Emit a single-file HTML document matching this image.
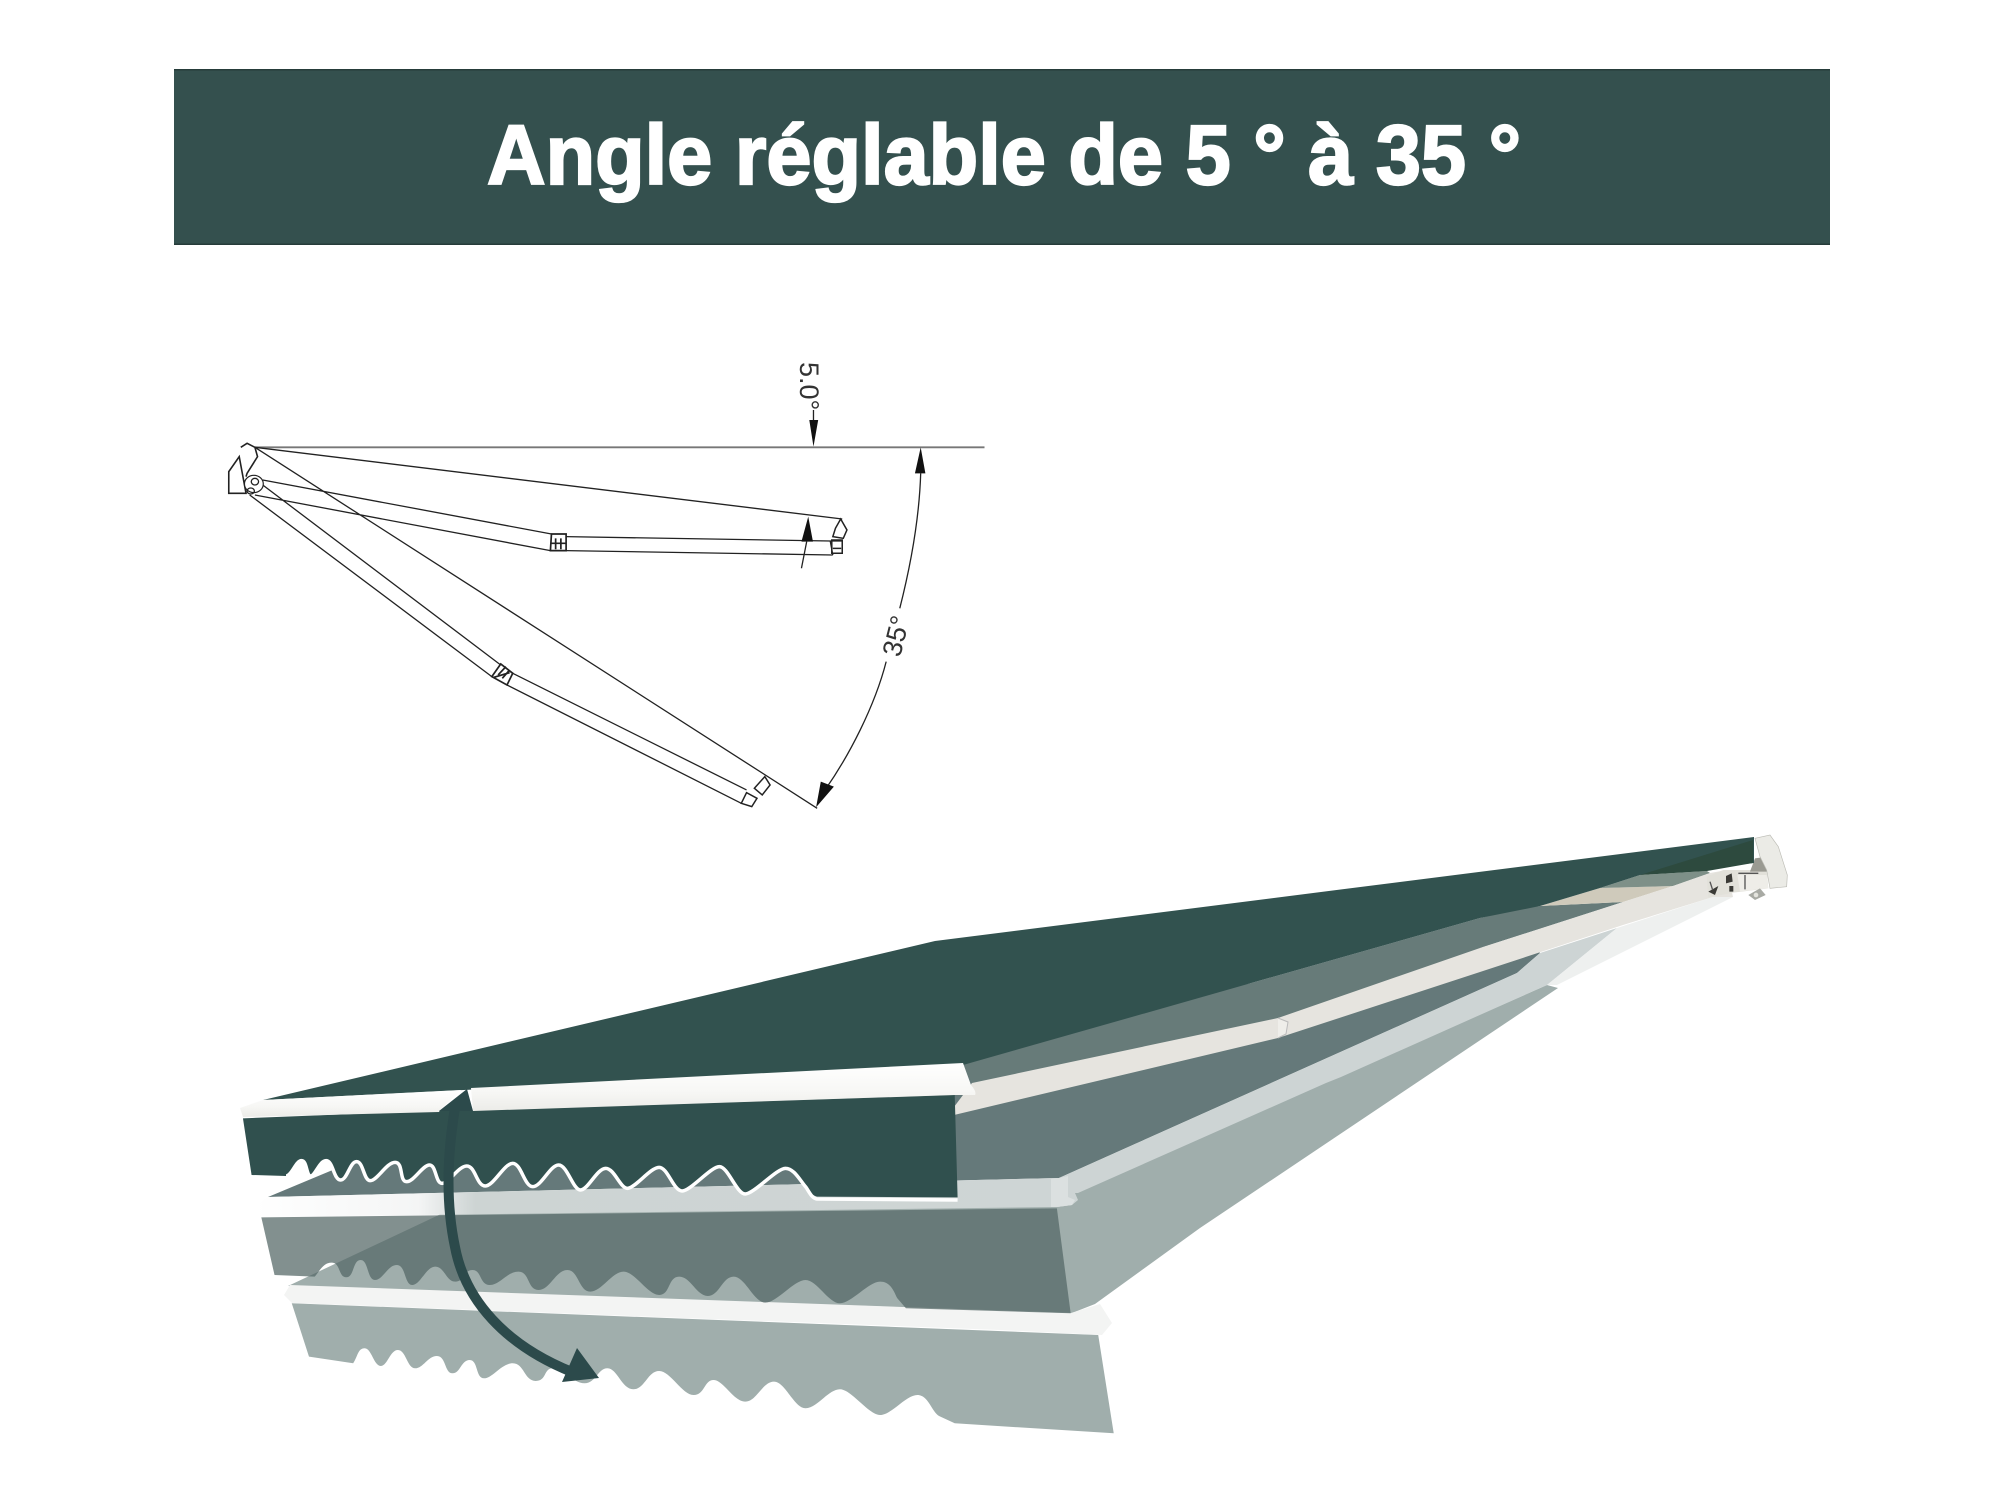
<!DOCTYPE html>
<html><head><meta charset="utf-8"><style>
html,body{margin:0;padding:0;background:#fff;width:2004px;height:1503px;overflow:hidden}
svg{display:block}
.l{fill:none;stroke:#222;stroke-width:1.3;vector-effect:non-scaling-stroke}
.t{font-family:"Liberation Sans",sans-serif;fill:#333}
</style></head><body>
<svg width="2004" height="1503" viewBox="0 0 2004 1503" xmlns="http://www.w3.org/2000/svg">
<defs>
<linearGradient id="bar1" x1="0" y1="0" x2="0" y2="1"><stop offset="0" stop-color="#fff"/><stop offset=".6" stop-color="#f7f7f5"/><stop offset="1" stop-color="#ecece8"/></linearGradient>
<linearGradient id="mid" x1="0" y1="0" x2="1" y2="0"><stop offset="0" stop-color="#ffffff"/><stop offset=".2" stop-color="#f4f5f5"/><stop offset=".27" stop-color="#cdd4d3"/><stop offset="1" stop-color="#ced5d5"/></linearGradient>
</defs>
<rect x="174" y="69" width="1656" height="176" fill="#34504e"/>
<rect x="174" y="69" width="1656" height="1.5" fill="#263c3a"/>
<rect x="174" y="243.5" width="1656" height="1.5" fill="#263c3a"/>
<text x="487" y="184" font-family="Liberation Sans, sans-serif" font-weight="700" font-size="84" fill="#fff" stroke="#fff" stroke-width="2.2" textLength="1034" lengthAdjust="spacingAndGlyphs">Angle réglable de 5 ° à 35 °</text>

<!-- technical drawing -->
<g transform="matrix(.523 0 0 .3333 200 340)">
<path d="M105,322H1500" class="l" style="stroke:#777;stroke-width:1.8"/>
<path class="l" d="M105,322L1228,537M105,322L1180,1405M120,420L672,582M105,465L670,632M700,590L1205,603H1228M700,632L1210,645M1205,603L1210,645M120,435L575,975M95,465L558,1010M598,1000L1045,1350M587,1035L1035,1390"/>
<path class="l" style="stroke-width:1.6" d="M78,322L90,310L105,322L110,350L90,400L88,410M88,460H55V395L75,350Z"/>
<ellipse cx="103" cy="432" rx="18" ry="26" fill="#fff" stroke="#222" stroke-width="1.2" vector-effect="non-scaling-stroke"/>
<ellipse cx="105" cy="425" rx="7" ry="10" class="l"/><ellipse cx="97" cy="453" rx="7" ry="9" class="l"/>
<path class="l" style="stroke-width:1.7" d="M672,582H700V632H670ZM680,595V628M690,595V628M672,610H700"/>
<path class="l" style="stroke-width:1.7" d="M575,972L598,1000L587,1035L558,1010ZM570,1005L585,980M578,1015L592,990M562,1012L592,998"/>
<path class="l" style="stroke-width:1.5" d="M1225,537L1237,570L1230,595L1210,590L1215,565ZM1208,600L1228,600V640H1208ZM1210,625H1226"/>
<path class="l" style="stroke-width:1.5" d="M1060,1345L1080,1310L1090,1335L1075,1365ZM1045,1358L1065,1375L1055,1400L1035,1390Z"/>
<path class="l" d="M1173,210V240M1150,685L1160,605M1378,400C1375,550 1355,700 1338,805M1312,965C1290,1100 1240,1250 1195,1350"/>
<path fill="#111" d="M1165,240H1182L1173,320ZM1163,530L1150,605H1172ZM1378,322L1367,400H1387ZM1178,1402L1187,1325L1212,1340Z"/>
</g>
<text class="t" font-size="27" transform="translate(800 362) rotate(90)">5.0°</text>
<text class="t" font-size="27" transform="translate(900 658) rotate(-76)">35°</text>

<!-- lower surface -->
<polygon fill="#a0aeac" points="288,1286 460,1205 1057,1190 1075,1193 1547,985 1558,988 1200,1228 1095,1304 1072,1313"/>
<g transform="matrix(.574 0 0 .3333 220 1040)">
<path fill="#a0aeac" d="M125,790L155,950L232,970C240,950 240,925 252,925S268,978 280,978S296,930 310,930S326,985 340,985S362,948 378,948S391,1000 405,1000S420,960 435,960S445,1015 460,1015S490,970 510,970S530,1023 550,1023S563,985 580,985S615,1030 635,1030S658,985 675,985S700,1048 720,1048S745,993 765,993S805,1065 825,1065S843,1020 860,1020S895,1085 915,1085S945,1025 965,1025S1000,1105 1020,1105S1060,1048 1080,1048S1130,1125 1150,1125S1195,1065 1215,1065S1240,1120 1255,1130L1280,1150L1557,1180L1530,885Z"/>
</g>
<polygon fill="#f3f4f3" points="290,1285 1071,1313 1100,1304 1112,1323 1102,1335 1000,1330 292,1303 284,1295"/>

<!-- middle valance -->
<g transform="matrix(.574 0 0 .3333 220 1040)">
<path fill="#536765" fill-opacity=".73" d="M72,532L95,705L165,710C175,690 180,668 195,668S206,712 220,712S231,660 245,660S256,720 270,720S292,675 308,675S321,735 335,735S359,680 375,680S394,725 410,725S424,690 440,690S452,735 470,735S500,695 520,695S535,750 555,750S585,690 605,690S625,755 645,755S683,695 703,695S745,765 765,765S780,710 800,710S830,768 850,768S875,710 895,710S930,788 950,788S1000,720 1020,720S1060,790 1080,790S1130,725 1150,725S1175,760 1180,775L1195,805L1482,820L1458,505Z"/>
</g>

<!-- middle surface, bar and arm -->
<polygon fill="#65797a" points="268,1197 500,1100 1530,940 1540,953 1517,973 1059,1178"/>
<polygon fill="#cdd4d4" points="1059,1178 1517,973 1540,953 1617,928 1547,985 1341,1077 1326,1083 1078,1193 1075,1193 1078,1200 1072,1205 1057,1207"/>
<polygon fill="#eef0ef" points="1617,928 1713,897 1733,897 1557,985 1547,985"/>
<polygon fill="url(#mid)" points="268,1197 1059,1178 1072,1205 1057,1207 262,1217 255,1212 255,1205"/>
<polygon fill="#dbe0e0" points="1051,1179 1059,1178 1068,1176 1068,1197 1075,1200 1072,1205 1057,1207 1051,1207"/>

<!-- top arm and underside -->
<polygon fill="#677b79" points="963,1065 1480,918 1523,908 1540,906 1623,902 1480,948 1278,1018 972,1083"/>
<polygon fill="#cfcabb" points="1540,906 1600,888 1673,886 1623,902"/>
<polygon fill="#7e9088" points="1600,888 1640,875 1707,871 1710,873 1673,886"/>
<polygon fill="#e6e4df" points="972,1083 1278,1018 1480,948 1623,902 1673,886 1710,873 1727,870 1733,897 1713,897 1623,925 1480,972 1278,1038 954,1115 954,1107"/>
<path d="M1278,1018L1288,1022L1286,1034L1278,1038" fill="#efeeea" stroke="#bbb" stroke-width="1"/>

<!-- hardware -->
<g transform="translate(1650 820) scale(.3333)">
<path fill="#e2e1da" d="M170,170L220,150H350L355,205L300,212L250,218L175,232Z"/>
<path fill="#eeede8" d="M262,165H350L355,205L270,214Z"/>
<path fill="#9a9a92" d="M315,115L350,110L358,155H300Z"/>
<path fill="#ebebe6" stroke="#bdbdb6" stroke-width="2" d="M315,55L360,45L385,80L412,165L410,200L360,205L350,150L330,110Z"/>
<path fill="#a8aaa4" d="M295,225L330,205L347,225L315,240Z"/>
<circle cx="318" cy="225" r="7" fill="#e4e4de"/>
<path fill="#3a3a36" d="M228,168L245,160L248,185L228,190ZM238,198H250V215H238ZM175,215L205,198L195,225Z"/>
<path fill="none" stroke="#555" stroke-width="4" d="M285,165V208M265,160H325M180,185L188,210"/>
</g>

<!-- top canvas -->
<path fill="#32524f" d="M263,1100L935,941L1754,837V863L1640,875L1600,888L1540,906L1480,918L963,1065Z"/>
<polygon fill="#2d4a3e" points="1640,875 1753,840 1753,863 1707,871"/>

<!-- front valance -->
<g transform="matrix(.574 0 0 .3333 220 1040)">
<path fill="#30504e" d="M40,235L380,212H440L1280,165L1285,472L1040,470C1030,465 1025,450 1020,440S1000,385 985,385S930,462 915,462S885,380 870,380S820,453 805,453S780,382 765,382S725,445 710,445S687,385 672,385S643,450 628,450S605,375 590,375S560,440 545,440S525,370 510,370S477,438 462,438S445,378 430,378S400,430 387,430S378,375 365,375S338,425 325,425S320,367 305,367S275,422 262,422S250,365 238,365S222,420 210,420S198,362 185,362S170,408 158,408S152,362 142,362S125,408 115,408L55,405Z"/>
<path fill="none" stroke="#fff" stroke-width="3.5" vector-effect="non-scaling-stroke" d="M115,408C125,408 132,362 142,362S150,408 158,408S173,362 185,362S198,420 210,420S226,365 238,365S250,422 262,422S290,367 305,367S312,425 325,425S353,375 365,375S375,430 387,430S415,378 430,378S447,438 462,438S495,370 510,370S530,440 545,440S575,375 590,375S615,450 628,450S657,385 672,385S697,445 710,445S750,382 765,382S790,453 805,453S855,380 870,380S900,462 915,462S970,385 985,385S1010,420 1020,440C1025,450 1030,475 1040,477L1285,480"/>
</g>

<!-- front bar -->
<path fill="url(#bar1)" d="M240,1108L263,1100L461,1090L440,1110L439,1112L243,1117Z"/>
<path fill="url(#bar1)" d="M471,1088L963,1063L971,1085Q977,1092 975,1095L955,1095L473,1111Z"/>

<!-- arrow -->
<path fill="none" stroke="#2c4a4b" stroke-width="10" d="M455,1108C448,1150 445,1200 455,1247C465,1300 505,1345 572,1372"/>
<path fill="#2c4a4b" d="M467,1089L439,1111H473ZM577,1348L599,1378L562,1382Z"/>
</svg>
</body></html>
